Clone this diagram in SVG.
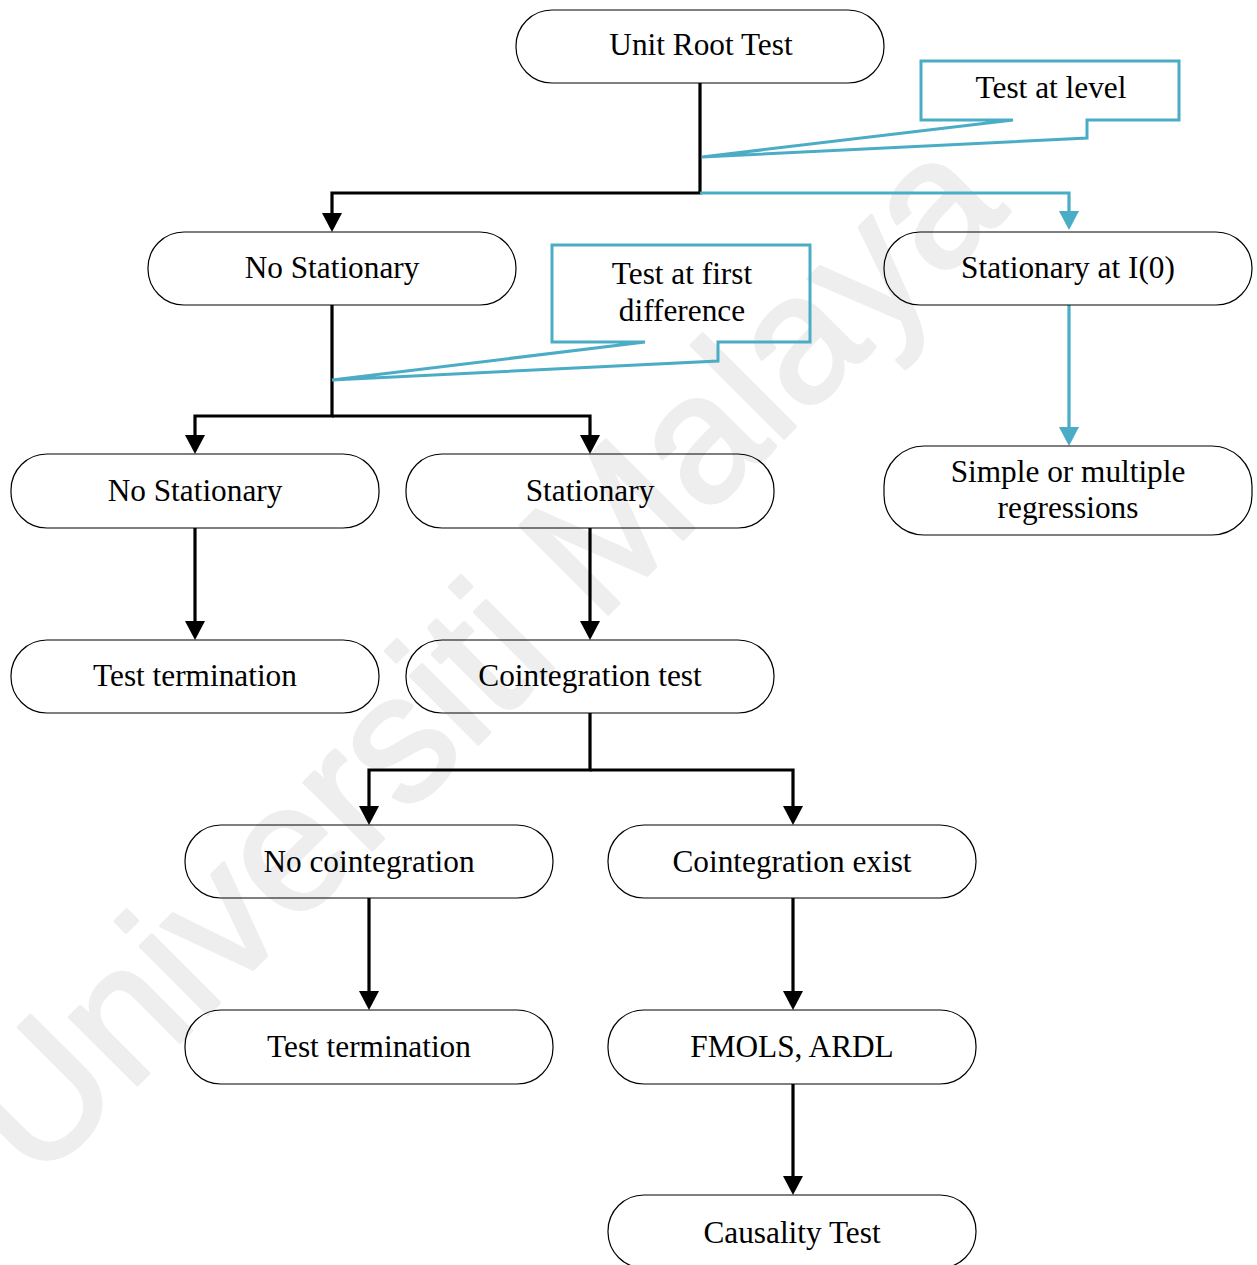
<svg xmlns="http://www.w3.org/2000/svg" width="1257" height="1265" viewBox="0 0 1257 1265">
  <defs>
    <style>
      .node { fill: none; stroke: #000; stroke-width: 1.2; }
      .label { font-family: "Liberation Serif", "Times New Roman", serif; font-size: 31.3px; fill: #000; text-anchor: middle; }
      .callout { fill: none; stroke: #4bacc6; stroke-width: 3; stroke-linejoin: miter; }
      .link { fill: none; stroke: #000; stroke-width: 3.2; }
      .link-cyan { fill: none; stroke: #4bacc6; stroke-width: 3.2; }
      .mark { font-family: "Liberation Sans", Arial, sans-serif; font-size: 181px; fill: #eeeeee; stroke: #eeeeee; stroke-width: 3.5; stroke-linejoin: round; }
    </style>
    <marker id="arrow" markerUnits="userSpaceOnUse" markerWidth="20" markerHeight="20" refX="1" refY="10" orient="auto">
      <path d="M0,0 L19,10 L0,20 Z" fill="#000"/>
    </marker>
    <marker id="arrow-cyan" markerUnits="userSpaceOnUse" markerWidth="20" markerHeight="20" refX="1" refY="10" orient="auto">
      <path d="M0,0 L19,10 L0,20 Z" fill="#4bacc6"/>
    </marker>
  </defs>

  <rect width="1257" height="1265" fill="#fff"/>

  <!-- watermark -->
  <text class="mark" transform="translate(36,1186) rotate(-45)">Universiti Malaya</text>

  <!-- connectors -->
  <g id="connectors">
    <path class="link" d="M700,83 V193 H332 V214" marker-end="url(#arrow)"/>
    <path class="link-cyan" d="M700,193 H1069 V212" marker-end="url(#arrow-cyan)"/>
    <path class="link-cyan" d="M1069,305 V428" marker-end="url(#arrow-cyan)"/>
    <path class="link" d="M332,305 V416 H195 V436" marker-end="url(#arrow)"/>
    <path class="link" d="M332,416 H590 V436" marker-end="url(#arrow)"/>
    <path class="link" d="M195,528 V622" marker-end="url(#arrow)"/>
    <path class="link" d="M590,528 V622" marker-end="url(#arrow)"/>
    <path class="link" d="M590,713 V770 H369 V807" marker-end="url(#arrow)"/>
    <path class="link" d="M590,770 H793 V807" marker-end="url(#arrow)"/>
    <path class="link" d="M369,898 V992" marker-end="url(#arrow)"/>
    <path class="link" d="M793,898 V992" marker-end="url(#arrow)"/>
    <path class="link" d="M793,1084 V1177" marker-end="url(#arrow)"/>
  </g>

  <!-- callouts -->
  <g id="callout-level">
    <path class="callout" d="M921,61 H1179 V120 H1087 V138 L702,157 L1013,120 H921 Z"/>
    <text class="label" x="1051" y="98">Test at level</text>
  </g>
  <g id="callout-first-difference">
    <path class="callout" d="M552,245 H810 V342 H718 V361 L332,380 L645,342 H552 Z"/>
    <text class="label" x="682" y="284">Test at first</text>
    <text class="label" x="682" y="321">difference</text>
  </g>

  <!-- nodes -->
  <g id="unit-root-test">
    <rect class="node" x="516" y="10" width="368" height="73" rx="36" ry="36"/>
    <text class="label" x="701" y="55">Unit Root Test</text>
  </g>
  <g id="no-stationary-level">
    <rect class="node" x="148" y="232" width="368" height="73" rx="36" ry="36"/>
    <text class="label" x="332" y="278">No Stationary</text>
  </g>
  <g id="stationary-i0">
    <rect class="node" x="884" y="232" width="368" height="73" rx="36" ry="36"/>
    <text class="label" x="1068" y="278">Stationary at I(0)</text>
  </g>
  <g id="regressions">
    <rect class="node" x="884" y="446" width="368" height="89" rx="40" ry="40"/>
    <text class="label" x="1068" y="482">Simple or multiple</text>
    <text class="label" x="1068" y="518">regressions</text>
  </g>
  <g id="no-stationary-diff">
    <rect class="node" x="11" y="454" width="368" height="74" rx="36" ry="36"/>
    <text class="label" x="195" y="501">No Stationary</text>
  </g>
  <g id="stationary-diff">
    <rect class="node" x="406" y="454" width="368" height="74" rx="36" ry="36"/>
    <text class="label" x="590" y="501">Stationary</text>
  </g>
  <g id="test-termination-1">
    <rect class="node" x="11" y="640" width="368" height="73" rx="36" ry="36"/>
    <text class="label" x="195" y="686">Test termination</text>
  </g>
  <g id="cointegration-test">
    <rect class="node" x="406" y="640" width="368" height="73" rx="36" ry="36"/>
    <text class="label" x="590" y="686">Cointegration test</text>
  </g>
  <g id="no-cointegration">
    <rect class="node" x="185" y="825" width="368" height="73" rx="36" ry="36"/>
    <text class="label" x="369" y="872">No cointegration</text>
  </g>
  <g id="cointegration-exist">
    <rect class="node" x="608" y="825" width="368" height="73" rx="36" ry="36"/>
    <text class="label" x="792" y="872">Cointegration exist</text>
  </g>
  <g id="test-termination-2">
    <rect class="node" x="185" y="1010" width="368" height="74" rx="36" ry="36"/>
    <text class="label" x="369" y="1057">Test termination</text>
  </g>
  <g id="fmols-ardl">
    <rect class="node" x="608" y="1010" width="368" height="74" rx="36" ry="36"/>
    <text class="label" x="792" y="1057">FMOLS, ARDL</text>
  </g>
  <g id="causality-test">
    <rect class="node" x="608" y="1195" width="368" height="73" rx="36" ry="36"/>
    <text class="label" x="792" y="1243">Causality Test</text>
  </g>
</svg>
